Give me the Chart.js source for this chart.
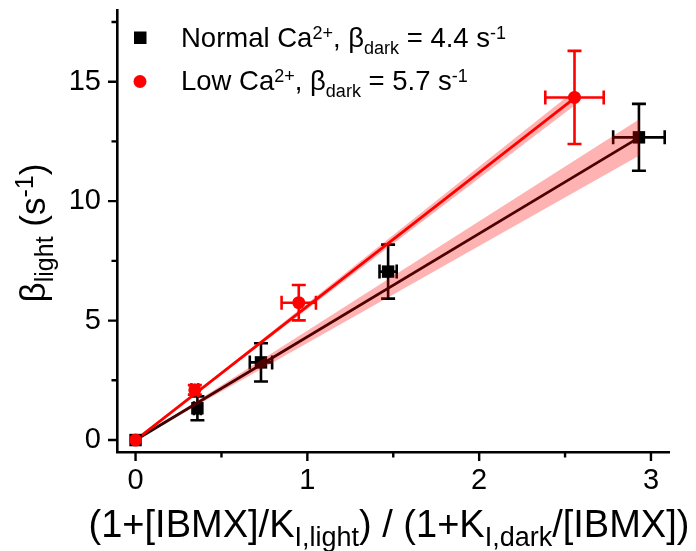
<!DOCTYPE html>
<html>
<head>
<meta charset="utf-8">
<script src="https://cdn.jsdelivr.net/npm/chart.js@4.4.1/dist/chart.umd.min.js"></script>
<style>
  html, body { margin: 0; padding: 0; background: #fff; }
</style>
</head>
<body>
<canvas id="c" width="696" height="551"></canvas>
<script>
// Normal Ca2+ (black squares)
const normalX = [0, 0.36, 0.73, 1.47, 2.93];
const normalY = [0, 1.33, 3.25, 7.05, 12.67];
const normalXErr = [0, 0.02, 0.065, 0.05, 0.15];
const normalYErr = [0, 0.5, 0.8, 1.13, 1.4];

// Low Ca2+ (red circles)
const lowX = [0, 0.345, 0.95, 2.555];
const lowY = [0, 2.1, 5.75, 14.34];
const lowXErr = [0, 0.02, 0.1, 0.17];
const lowYErr = [0, 0.2, 0.74, 1.95];

// fitted lines and confidence bands (through origin)
const normalFitX = [0, 2.93];
const normalFitY = [0, 12.66];
const normalBandLo = [0, 11.9];
const normalBandHi = [0, 13.42];

const lowFitX = [0, 2.555];
const lowFitY = [0, 14.31];
const lowBandLo = [0, 14.0];
const lowBandHi = [0, 14.62];

// axis ticks
const xMajor = [0, 1, 2, 3];
const xMinor = [0.5, 1.5, 2.5];
const yMajor = [0, 5, 10, 15];
const yMinor = [2.5, 7.5, 12.5, 17.5];

const FONT = '"Liberation Sans", Arial, sans-serif';
const pts = (xs, ys) => xs.map((x, i) => ({ x: x, y: ys[i] }));

// texte avec indices / exposants
function richWidth(ctx, segs, big, small) {
  let w = 0;
  segs.forEach(s => {
    ctx.font = (s.k ? small : big) + "px " + FONT;
    w += ctx.measureText(s.t).width;
  });
  return w;
}
function drawRich(ctx, x, y, segs, big, small, supOff, subOff) {
  segs.forEach(s => {
    ctx.font = (s.k ? small : big) + "px " + FONT;
    let dy = 0;
    if (s.k === "sup") dy = -supOff;
    if (s.k === "sub") dy = subOff;
    ctx.fillText(s.t, x, y + dy);
    x += ctx.measureText(s.t).width;
  });
}

function drawErr(ctx, sx, sy, xs, ys, exs, eys, color) {
  ctx.save();
  ctx.strokeStyle = color;
  ctx.lineWidth = 2.6;
  ctx.lineCap = "butt";
  const cap = 7;
  xs.forEach((x, i) => {
    const px = sx.getPixelForValue(x), py = sy.getPixelForValue(ys[i]);
    if (eys[i] > 0) {
      const t = sy.getPixelForValue(ys[i] + eys[i]), b = sy.getPixelForValue(ys[i] - eys[i]);
      ctx.beginPath();
      ctx.moveTo(px, t); ctx.lineTo(px, b);
      ctx.moveTo(px - cap, t); ctx.lineTo(px + cap, t);
      ctx.moveTo(px - cap, b); ctx.lineTo(px + cap, b);
      ctx.stroke();
    }
    if (exs[i] > 0) {
      const l = sx.getPixelForValue(x - exs[i]), r = sx.getPixelForValue(x + exs[i]);
      ctx.beginPath();
      ctx.moveTo(l, py); ctx.lineTo(r, py);
      ctx.moveTo(l, py - cap); ctx.lineTo(l, py + cap);
      ctx.moveTo(r, py - cap); ctx.lineTo(r, py + cap);
      ctx.stroke();
    }
  });
  ctx.restore();
}

const errorBars = {
  id: "errorBars",
  beforeDatasetsDraw(chart) {
    const { ctx, scales } = chart;
    drawErr(ctx, scales.x, scales.y, normalX, normalY, normalXErr, normalYErr, "#000");
    drawErr(ctx, scales.x, scales.y, lowX, lowY, lowXErr, lowYErr, "#ff0000");
  }
};

const decor = {
  id: "decor",
  afterDraw(chart) {
    const { ctx, scales, chartArea } = chart;
    ctx.save();
    // graduations
    ctx.strokeStyle = "#000";
    ctx.lineWidth = 2.4;
    ctx.beginPath();
    const yb = chartArea.bottom + 1;
    xMajor.forEach(v => { const p = scales.x.getPixelForValue(v); ctx.moveTo(p, yb); ctx.lineTo(p, yb + 8); });
    xMinor.forEach(v => { const p = scales.x.getPixelForValue(v); ctx.moveTo(p, yb); ctx.lineTo(p, yb + 4.5); });
    const xl = chartArea.left - 1;
    yMajor.forEach(v => { const p = scales.y.getPixelForValue(v); ctx.moveTo(xl, p); ctx.lineTo(xl - 8, p); });
    yMinor.forEach(v => { const p = scales.y.getPixelForValue(v); ctx.moveTo(xl, p); ctx.lineTo(xl - 4.5, p); });
    ctx.stroke();

    ctx.fillStyle = "#000";
    ctx.textBaseline = "alphabetic";
    ctx.textAlign = "left";

    // titre axe x
    const xt = [
      { t: "(1+[IBMX]/K" }, { t: "I,light", k: "sub" }, { t: ") / (1+K" },
      { t: "I,dark", k: "sub" }, { t: "/[IBMX])" }
    ];
    const wx = richWidth(ctx, xt, 38, 27);
    drawRich(ctx, 389 - wx / 2, 537, xt, 38, 27, 12, 9);

    // titre axe y
    const yt = [
      { t: "\u03b2" }, { t: "light", k: "sub" }, { t: " (s" }, { t: "-1", k: "sup" }, { t: ")" }
    ];
    const wy = richWidth(ctx, yt, 35, 25);
    ctx.save();
    ctx.translate(45, 233);
    ctx.rotate(-Math.PI / 2);
    drawRich(ctx, -wy / 2, 0, yt, 35, 25, 12, 8);
    ctx.restore();

    // légende
    ctx.fillStyle = "#000";
    ctx.fillRect(134, 31.5, 12.5, 12.5);
    ctx.fillStyle = "#ff0000";
    ctx.beginPath(); ctx.arc(140, 81.5, 6.5, 0, Math.PI * 2); ctx.fill();
    ctx.fillStyle = "#000";
    drawRich(ctx, 181, 47, [
      { t: "Normal Ca" }, { t: "2+", k: "sup" }, { t: ", \u03b2" }, { t: "dark", k: "sub" },
      { t: " = 4.4 s" }, { t: "-1", k: "sup" }
    ], 27.5, 18, 8.5, 6.5);
    drawRich(ctx, 181, 90, [
      { t: "Low Ca" }, { t: "2+", k: "sup" }, { t: ", \u03b2" }, { t: "dark", k: "sub" },
      { t: " = 5.7 s" }, { t: "-1", k: "sup" }
    ], 27.5, 18, 8.5, 6.5);
    ctx.restore();
  }
};

const band = "rgba(255,0,0,0.3)";

new Chart(document.getElementById("c"), {
  type: "scatter",
  data: {
    datasets: [
      { type: "line", data: pts(normalFitX, normalBandLo), borderWidth: 0, pointRadius: 0, fill: false, order: 0 },
      { type: "line", data: pts(normalFitX, normalBandHi), borderWidth: 0, pointRadius: 0, fill: "-1", backgroundColor: band, order: 0 },
      { type: "line", data: pts(lowFitX, lowBandLo), borderWidth: 0, pointRadius: 0, fill: false, order: 0 },
      { type: "line", data: pts(lowFitX, lowBandHi), borderWidth: 0, pointRadius: 0, fill: "-1", backgroundColor: band, order: 0 },
      { data: pts(lowX, lowY), pointStyle: "circle", pointRadius: 6.5, backgroundColor: "#ff0000", borderWidth: 0, order: 1 },
      { data: pts(normalX, normalY), pointStyle: "rect", pointRadius: 8.8, backgroundColor: "#000", borderWidth: 0, order: 2 },
      { type: "line", data: pts(lowFitX, lowFitY), borderColor: "#ff0000", borderWidth: 2.8, pointRadius: 0, fill: false, order: 3 },
      { type: "line", data: pts(normalFitX, normalFitY), borderColor: "#000", borderWidth: 2.8, pointRadius: 0, fill: false, order: 4 }
    ]
  },
  options: {
    responsive: false,
    animation: false,
    layout: { padding: { left: 0, right: 27, top: 10, bottom: 0 } },
    plugins: { legend: { display: false }, tooltip: { enabled: false } },
    scales: {
      x: {
        type: "linear", min: -0.108, max: 3.105,
        afterFit: s => { s.height = 99; s.paddingLeft = 0; s.paddingRight = 0; },
        grid: { display: true, drawOnChartArea: false, drawTicks: false },
        border: { display: true, color: "#000", width: 2.6 },
        ticks: { stepSize: 1, includeBounds: false, padding: 12, color: "#000", font: { family: FONT, size: 29 } }
      },
      y: {
        type: "linear", min: -0.5, max: 18,
        afterFit: s => { s.width = 117; s.paddingTop = 0; s.paddingBottom = 0; },
        grid: { display: true, drawOnChartArea: false, drawTicks: false },
        border: { display: true, color: "#000", width: 2.6 },
        ticks: { stepSize: 5, includeBounds: false, padding: 16, color: "#000", font: { family: FONT, size: 29 } }
      }
    }
  },
  plugins: [errorBars, decor]
});
</script>
</body>
</html>
